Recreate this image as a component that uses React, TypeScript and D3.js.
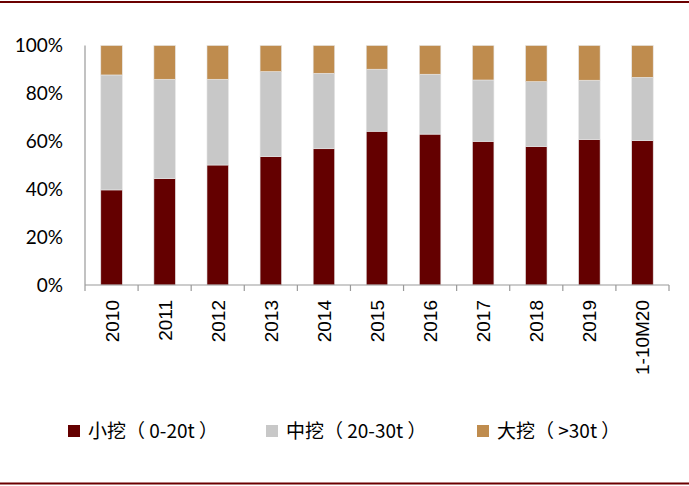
import React from "react";
import * as d3 from "d3";

const categories = ["2010", "2011", "2012", "2013", "2014", "2015", "2016", "2017", "2018", "2019", "1-10M20"];
const small = [39.7, 44.4, 50.1, 53.6, 56.9, 64.2, 63.0, 60.0, 57.8, 60.7, 60.3];
const medium = [48.0, 41.5, 35.8, 35.5, 31.5, 25.9, 25.0, 25.6, 27.1, 24.8, 26.4];
const large = categories.map((_, i) => +(100 - small[i] - medium[i]).toFixed(1));
const yTicks = [0, 20, 40, 60, 80, 100];
const seriesNames = ["小挖（ 0-20t ）", "中挖（ 20-30t ）", "大挖（ >30t ）"];
const colors = ["#640000", "#C8C8C8", "#BF8C4E"];

export default function App() {
  const W = 689, H = 486;
  const left = 85, right = 669, top = 45.5, bottom = 285;
  const x = d3.scaleBand<string>().domain(categories).range([left, right]).paddingInner(0.595).paddingOuter(0.2975);
  const y = d3.scaleLinear().domain([0, 100]).range([bottom, top]);
  const rows = categories.map((c, i) => ({ cat: c, s0: small[i], s1: medium[i], s2: large[i] }));
  const stack = d3.stack<any>().keys(["s0", "s1", "s2"])(rows);
  const step = (right - left) / categories.length;
  const legendX = [68, 266, 477];

  return (
    <svg width={W} height={H} style={{ position: "absolute", left: 0, top: 0, background: "#fff" }}>
      <line x1={0} x2={W} y1={2} y2={2} stroke="#6B0000" strokeWidth={2} />
      <line x1={0} x2={W} y1={483.5} y2={483.5} stroke="#6B0000" strokeWidth={2} />
      {stack.map((layer, li) =>
        layer.map((d, i) => (
          <rect
            key={li + "-" + i}
            x={x(categories[i])}
            width={x.bandwidth()}
            y={y(d[1])}
            height={y(d[0]) - y(d[1])}
            fill={colors[li]}
            stroke="#e6e6e6"
            strokeWidth={0.6}
          />
        ))
      )}
      <line x1={left} x2={left} y1={top} y2={bottom} stroke="#999" strokeWidth={1.2} />
      <line x1={left} x2={right} y1={bottom} y2={bottom} stroke="#999" strokeWidth={1.2} />
      {d3.range(categories.length + 1).map((k) => (
        <line key={k} x1={left + k * step} x2={left + k * step} y1={bottom} y2={bottom + 6} stroke="#999" strokeWidth={1.2} />
      ))}
      {yTicks.map((t) => (
        <text key={t} x={63} y={y(t) + 6.5} textAnchor="end" fontFamily="Lato, 'Open Sans', sans-serif" fontSize={19} fill="#000">
          {t}%
        </text>
      ))}
      {categories.map((c) => {
        const cx = (x(c) as number) + x.bandwidth() / 2;
        return (
          <text key={c} transform={`translate(${cx + 7},300) rotate(-90)`} textAnchor="end" fontFamily="'Liberation Sans', Arial, sans-serif" fontSize={19} fill="#000">
            {c}
          </text>
        );
      })}
      {seriesNames.map((n, i) => (
        <g key={n}>
          <rect x={legendX[i]} y={425} width={12} height={12} fill={colors[i]} />
          <text x={legendX[i] + 20} y={438} fontFamily="'Noto Sans CJK SC', sans-serif" fontSize={19} fill="#000" style={{ whiteSpace: "pre" }}>
            {n}
          </text>
        </g>
      ))}
    </svg>
  );
}
